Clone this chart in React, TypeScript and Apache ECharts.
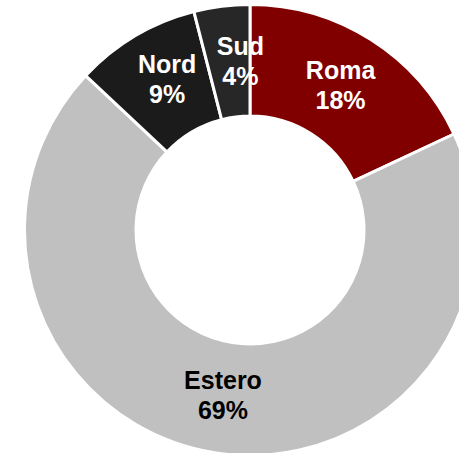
import React, { useEffect, useRef } from "react";
import * as echarts from "echarts";

const categories = ["Roma", "Estero", "Nord", "Sud"];
const values = [18, 69, 9, 4];
const colors = ["#800000", "#C0C0C0", "#1B1B1B", "#272727"];
const labelColors = ["#FFFFFF", "#000000", "#FFFFFF", "#FFFFFF"];
const labelOffsets = [[-2, 1], [0, -6], [5, -2], [12, 2]];

export default function App() {
  const ref = useRef<HTMLDivElement>(null);
  useEffect(() => {
    if (!ref.current) return;
    const chart = echarts.init(ref.current, null, { renderer: "svg" });
    chart.setOption({
      animation: false,
      backgroundColor: "#FFFFFF",
      series: [
        {
          type: "pie",
          center: [250, 230],
          radius: [114, 225.5],
          startAngle: 90,
          clockwise: true,
          avoidLabelOverlap: false,
          emphasis: { disabled: true },
          itemStyle: { borderColor: "#FFFFFF", borderWidth: 3 },
          label: {
            show: true,
            position: "inside",
            formatter: "{b}\n{c}%",
            fontFamily: "Liberation Sans, Arial, sans-serif",
            fontWeight: "bold",
            fontSize: 25,
            lineHeight: 30,
          },
          labelLine: { show: false },
          data: categories.map((name, i) => ({
            name,
            value: values[i],
            itemStyle: { color: colors[i] },
            label: { color: labelColors[i], offset: labelOffsets[i] },
          })),
        },
      ],
    });
    return () => chart.dispose();
  }, []);
  return (
    <div
      ref={ref}
      style={{ position: "fixed", left: 0, top: 0, width: 459, height: 453 }}
    />
  );
}
